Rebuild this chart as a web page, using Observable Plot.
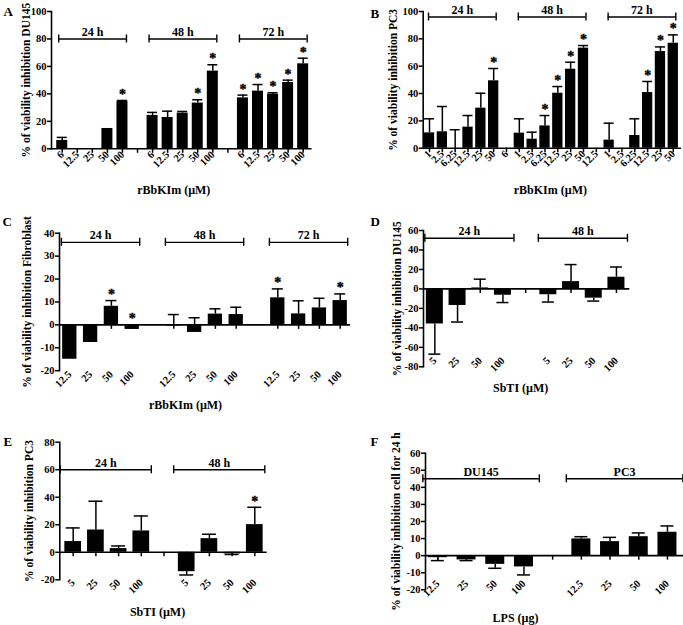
<!DOCTYPE html>
<html>
<head>
<meta charset="utf-8">
<script src="https://cdn.jsdelivr.net/npm/d3@7"></script>
<script src="https://cdn.jsdelivr.net/npm/@observablehq/plot@0.6"></script>
<style>
  html, body { margin: 0; padding: 0; background: #fff; }
  #fig { position: relative; width: 683px; height: 625px; overflow: hidden; background: #fff; }
  .panel { position: absolute; }
</style>
</head>
<body>
<div id="fig"></div>
<script>
// ---------- Panel A: rBbKIm on DU145 ----------
const aLabels = ["6","12.5","25","50","100","","6","12.5","25","50","100","","6","12.5","25","50","100"];
const aValues = [6.1, 0, 0, 14.8, 34.7, null, 24.3, 22.8, 26, 33.3, 56.6, null, 37.1, 42, 39.8, 48.3, 61.9];
const aErrEnd = [8.3, null, null, null, 35.2, null, 26.5, 27.4, 27.2, 35.7, 61.2, null, 39.1, 46.8, 40.8, 50, 66];
const aStars  = [0,0,0,0,1, 0, 0,0,0,1,1, 0, 1,1,1,1,1];
const aGroups = [{label: "24 h", from: 0, to: 4}, {label: "48 h", from: 6, to: 10}, {label: "72 h", from: 12, to: 16}];
const aGroupY = 80;
const aYTicks = [0, 20, 40, 60, 80, 100];

// ---------- Panel B: rBbKIm on PC3 ----------
const bLabels = ["1","2.5","6.25","12.5","25","50","6","1","2.5","6.25","12.5","25","50","12.5","1","2.5","6.25","12.5","25","50"];
const bValues = [11.2, 12, 0, 15.4, 29.3, 49.3, null, 11, 6.6, 16.3, 40.2, 57.8, 73.2, null, 5.9, 0, 9.3, 40.7, 70.7, 76.8];
const bErrEnd = [21.5, 30.5, 13.5, 23.9, 40.2, 58.3, null, 21.5, 11.7, 23.9, 45.1, 62.9, 75.1, null, 18.3, null, 21.5, 48.8, 74.1, 82.9];
const bStars  = [0,0,0,0,0,1, 0, 0,0,1,1,1,1, 0, 0,0,0,1,1,1];
const bGroups = [{label: "24 h", from: 0, to: 5}, {label: "48 h", from: 7, to: 12}, {label: "72 h", from: 14, to: 19}];
const bGroupY = 96;
const bYTicks = [0, 20, 40, 60, 80, 100];

// ---------- Panel C: rBbKIm on Fibroblast ----------
const cLabels = ["12.5","25","50","100","","12.5","25","50","100","","12.5","25","50","100"];
const cValues = [-15, -7.7, 8.1, -2, null, -0.5, -3.3, 4.7, 4.5, null, 11.8, 4.8, 7.4, 10.6];
const cErrEnd = [null, null, 10.6, null, null, 4.5, 3.1, 7.0, 7.7, null, 15.7, 10.5, 11.6, 13.5];
const cStars  = [0,0,1,1, 0, 0,0,0,0, 0, 1,0,0,1];
const cGroups = [{label: "24 h", from: 0, to: 3}, {label: "48 h", from: 5, to: 8}, {label: "72 h", from: 10, to: 13}];
const cGroupY = 36;
const cYTicks = [-20, -10, 0, 10, 20, 30, 40];

// ---------- Panel D: SbTI on DU145 ----------
const dLabels = ["5","25","50","100","","5","25","50","100"];
const dValues = [-36, -17, 1, -6.5, null, -6, 7.5, -9.5, 12];
const dErrEnd = [-67, -34, 10, -14, null, -13.5, 25, -12.5, 22.5];
const dStars  = [0,0,0,0,0,0,0,0,0];
const dGroups = [{label: "24 h", from: 0, to: 3}, {label: "48 h", from: 5, to: 8}];
const dGroupY = 52;
const dYTicks = [-80, -60, -40, -20, 0, 20, 40, 60];

// ---------- Panel E: SbTI on PC3 ----------
const eLabels = ["5","25","50","100","","5","25","50","100"];
const eValues = [7.8, 16.2, 2.7, 15.5, null, -14.1, 9.9, -1.2, 20.1];
const eErrEnd = [17.7, 37.1, 4.6, 26.4, null, -16.5, 13.1, -1.6, 32.7];
const eStars  = [0,0,0,0,0,0,0,0,1];
const eGroups = [{label: "24 h", from: 0, to: 3}, {label: "48 h", from: 5, to: 8}];
const eGroupY = 60;
const eYTicks = [-20, 0, 20, 40, 60, 80];

// ---------- Panel F: LPS, 24 h ----------
const fLabels = ["12.5","25","50","100","","12.5","25","50","100"];
const fValues = [-1.2, -2.5, -5.1, -6.6, null, 9.8, 8.2, 11.1, 13.7];
const fErrEnd = [-2.9, -2.9, -7.4, -11.3, null, 11.1, 10.7, 13.3, 17.4];
const fStars  = [0,0,0,0,0,0,0,0,0];
const fGroups = [{label: "DU145", from: 0, to: 3}, {label: "PC3", from: 5, to: 8}];
const fGroupY = 45;
const fYTicks = [-20, -10, 0, 10, 20, 30, 40, 50, 60];

const FONT = "'Liberation Serif', 'Times New Roman', serif";

function panel(d, L) {
  const n = d.labels.length;
  const idx = d3.range(n);
  const rows = idx.map(i => ({i, v: d.values[i], e: d.errEnd[i], s: d.stars[i]}));
  const step = (L.xr[1] - L.xr[0]) / n;
  const hw = L.barW / 2 / step;
  const cw = L.capW / 2 / step;
  const bars = rows.filter(r => r.v != null && r.v !== 0);
  const errs = rows.filter(r => r.e != null);
  const stars = rows.filter(r => r.s);
  const tickRows = rows.filter(r => L.gapTicks || r.v != null);
  const groups = d.groups.map(g => {
    const x1 = g.from - L.bp[0] / step, x2 = g.to + L.bp[1] / step;
    return {label: g.label, x1, x2, xm: (x1 + x2) / 2, y: d.groupY};
  });
  const caps = groups.flatMap(g => [{x: g.x1, y: g.y}, {x: g.x2, y: g.y}]);
  const top = r => Math.max(0, r.v, r.e == null ? r.v : r.e);

  const svg = Plot.plot({
    width: L.w, height: L.h,
    marginLeft: L.ml, marginRight: L.mr, marginTop: L.mt, marginBottom: L.mb,
    style: {fontFamily: FONT, fontSize: "10px", fontWeight: "bold", color: "black", background: "none", overflow: "visible"},
    x: {type: "linear", domain: [-0.5, n - 0.5], range: L.xr},
    y: {domain: d.yDomain},
    marks: [
      Plot.rect(bars, {x1: r => r.i - hw, x2: r => r.i + hw, y1: 0, y2: "v", fill: "black"}),
      Plot.ruleX(errs, {x: "i", y1: "v", y2: "e", stroke: "black", strokeWidth: 1.5}),
      Plot.ruleY(errs, {y: "e", x1: r => r.i - cw, x2: r => r.i + cw, stroke: "black", strokeWidth: 1.5}),
      Plot.ruleY([0], {stroke: "black", strokeWidth: 1.6}),
      Plot.ruleX(tickRows, {x: "i", y1: 0, y2: 0, insetTop: 0, insetBottom: -4.5, stroke: "black", strokeWidth: 1.5}),
      Plot.frame({anchor: "left", stroke: "black", strokeWidth: 1.6}),
      Plot.axisY({ticks: d.yTicks, tickSize: 4, tickPadding: 1, tickFormat: v => String(v), label: null, strokeWidth: 1.5, fontSize: 10.5}),
      Plot.axisX({ticks: idx, tickFormat: i => d.labels[i], tickSize: 0, tickPadding: L.xpad, tickRotate: -45, label: null, fontSize: 10.5}),
      Plot.ruleY(groups, {y: "y", x1: "x1", x2: "x2", stroke: "black", strokeWidth: 1.4}),
      Plot.ruleX(caps, {x: "x", y1: "y", y2: "y", insetTop: -4, insetBottom: -4, stroke: "black", strokeWidth: 1.4}),
      Plot.text(groups, {x: "xm", y: "y", text: "label", dy: -7, fontSize: 12, fontWeight: "bold", fill: "black"}),
      Plot.text(stars, {x: "i", y: top, text: () => "*", dy: -6, fontSize: 14, fontWeight: "bold", fill: "black", stroke: "black", strokeWidth: 0.4}),
      Plot.text([d.yTitle], {text: t => t, frameAnchor: "left", textAnchor: "middle", lineAnchor: "middle", rotate: -90, dx: L.ytx, fontSize: 11.5, fontWeight: "bold", fill: "black"}),
      Plot.text([d.xTitle], {text: t => t, frameAnchor: "bottom", textAnchor: "middle", lineAnchor: "middle", dx: L.xtx, dy: L.xty, fontSize: 12, fontWeight: "bold", fill: "black"}),
      Plot.text([d.letter], {text: t => t, frameAnchor: "top-left", textAnchor: "start", lineAnchor: "middle", dx: L.ldx, dy: L.ldy, fontSize: 13, fontWeight: "bold", fill: "black"})
    ]
  });
  const div = document.createElement("div");
  div.className = "panel";
  div.style.left = L.left + "px";
  div.style.top = L.top + "px";
  div.appendChild(svg);
  document.getElementById("fig").appendChild(div);
}

panel(
  {labels: aLabels, values: aValues, errEnd: aErrEnd, stars: aStars, groups: aGroups, groupY: aGroupY, yTicks: aYTicks,
   yDomain: [0, 100], yTitle: "% of viability inhibition DU145", xTitle: "rBbKIm (µM)", letter: "A"},
  {left: 0, top: 0, w: 340, h: 200, ml: 51, mr: 28.5, mt: 11, mb: 51.7, xr: [54.2, 310.2], barW: 11, capW: 10,
   bp: [3.5, 4], gapTicks: true, xpad: 4, ytx: -25, xtx: -8, xty: 41.7, ldx: -48, ldy: 0}
);
panel(
  {labels: bLabels, values: bValues, errEnd: bErrEnd, stars: bStars, groups: bGroups, groupY: bGroupY, yTicks: bYTicks,
   yDomain: [0, 100], yTitle: "% of viability inhibition PC3", xTitle: "rBbKIm (µM)", letter: "B"},
  {left: 340, top: 0, w: 343, h: 200, ml: 82.7, mr: 2, mt: 11, mb: 52.3, xr: [82.6, 339.2], barW: 10.3, capW: 10,
   bp: [1, 2.5], gapTicks: true, xpad: 4, ytx: -29.7, xtx: -2, xty: 42.3, ldx: -52.7, ldy: 2.3}
);
panel(
  {labels: cLabels, values: cValues, errEnd: cErrEnd, stars: cStars, groups: cGroups, groupY: cGroupY, yTicks: cYTicks,
   yDomain: [-20, 40], yTitle: "% of viability inhibition Fibroblast", xTitle: "rBbKIm (µM)", letter: "C"},
  {left: 0, top: 200, w: 355, h: 215, ml: 59, mr: 5, mt: 32.7, mb: 44.8, xr: [58.9, 350.1], barW: 14.3, capW: 11,
   bp: [8.4, 7.5], gapTicks: false, xpad: 2, ytx: -32.3, xtx: -19.5, xty: 34.8, ldx: -57, ldy: -11.2}
);
panel(
  {labels: dLabels, values: dValues, errEnd: dErrEnd, stars: dStars, groups: dGroups, groupY: dGroupY, yTicks: dYTicks,
   yDomain: [-80, 60], yTitle: "% of viability inhibition DU145", xTitle: "SbTI (µM)", letter: "D"},
  {left: 340, top: 200, w: 343, h: 215, ml: 83, mr: 53.7, mt: 30, mb: 48.7, xr: [83, 287.3], barW: 17, capW: 12,
   bp: [10, 11], gapTicks: true, xpad: -8, ytx: -26, xtx: -6, xty: 21.7, ldx: -53, ldy: -9}
);
panel(
  {labels: eLabels, values: eValues, errEnd: eErrEnd, stars: eStars, groups: eGroups, groupY: eGroupY, yTicks: eYTicks,
   yDomain: [-20, 80], yTitle: "% of viability inhibition PC3", xTitle: "SbTI (µM)", letter: "E"},
  {left: 0, top: 415, w: 340, h: 210, ml: 59.3, mr: 73.3, mt: 26.7, mb: 45.7, xr: [61.35, 265.65], barW: 16.7, capW: 14,
   bp: [13, 10], gapTicks: true, xpad: 1, ytx: -30.3, xtx: -6, xty: 32.7, ldx: -56.3, ldy: 0}
);
panel(
  {labels: fLabels, values: fValues, errEnd: fErrEnd, stars: fStars, groups: fGroups, groupY: fGroupY, yTicks: fYTicks,
   yDomain: [-20, 60], yTitle: "% of viability inhibition cell for 24 h", xTitle: "LPS (µg)", letter: "F"},
  {left: 340, top: 415, w: 343, h: 210, ml: 85, mr: 0, mt: 37.7, mb: 35.7, xr: [83, 341.3], barW: 19, capW: 13,
   bp: [15, 15.4], gapTicks: true, xpad: -8, ytx: -29, xtx: -39, xty: 28.2, ldx: -55, ldy: -11}
);
</script>
</body>
</html>
